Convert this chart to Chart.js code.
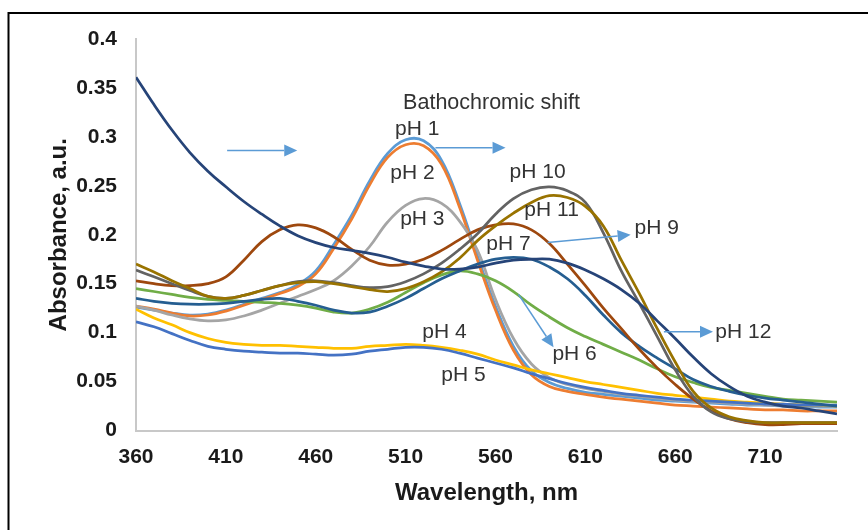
<!DOCTYPE html>
<html>
<head>
<meta charset="utf-8">
<script src="https://cdn.jsdelivr.net/npm/chart.js@4.4.1/dist/chart.umd.min.js"></script>
<style>
  html, body { margin: 0; padding: 0; background: #fff; }
</style>
</head>
<body>
<canvas id="spectra" width="868" height="530"></canvas>
<script>
const FONT = "'Liberation Sans', Arial, sans-serif";

// wavelength grid, nm
const wavelengths = [360, 370, 380, 390, 400, 410, 420, 430, 440, 450,
                     460, 470, 480, 490, 500, 510, 520, 530, 540, 550,
                     560, 570, 580, 590, 600, 610, 620, 630, 640, 650,
                     660, 670, 680, 690, 700, 710, 720, 730, 740, 750];

// absorbance values
const ph1 = [.126, .123, .120, .118, .119, .123, .129, .135, .141, .149,
             .163, .190, .220, .255, .283, .297, .296, .276, .232, .178,
             .127, .086, .061, .049, .043, .039, .037, .035, .033, .031,
             .030, .029, .028, .027, .026, .026, .025, .025, .024, .024];
const ph2 = [.127, .124, .120, .117, .118, .122, .128, .134, .140, .147,
             .160, .186, .216, .251, .279, .292, .291, .272, .228, .174,
             .123, .082, .057, .045, .040, .037, .034, .032, .030, .028,
             .026, .025, .024, .023, .022, .021, .021, .020, .020, .020];
const ph3 = [.127, .123, .118, .114, .112, .113, .117, .123, .130, .137,
             .144, .153, .168, .188, .213, .230, .237, .232, .214, .184,
             .134, .094, .068, .054, .047, .043, .040, .037, .035, .033,
             .031, .030, .029, .028, .027, .026, .026, .025, .025, .025];
const ph4 = [.124, .115, .108, .100, .094, .090, .088, .087, .087, .086,
             .085, .084, .084, .086, .087, .088, .087, .085, .082, .078,
             .072, .067, .062, .058, .054, .050, .047, .044, .041, .038,
             .036, .034, .032, .030, .029, .028, .027, .026, .026, .025];
const ph5 = [.111, .106, .099, .092, .086, .083, .081, .080, .079, .079,
             .078, .077, .078, .081, .083, .085, .085, .083, .079, .074,
             .069, .064, .058, .053, .048, .044, .041, .038, .036, .034,
             .032, .031, .030, .029, .028, .027, .027, .026, .026, .026];
const ph6 = [.145, .142, .139, .136, .134, .133, .132, .131, .130, .128,
             .125, .121, .120, .124, .131, .141, .151, .159, .163, .160,
             .153, .142, .128, .116, .105, .096, .088, .080, .072, .063,
             .055, .049, .044, .041, .038, .035, .032, .031, .030, .029];
const ph7 = [.135, .132, .130, .129, .129, .130, .132, .134, .135, .132,
             .128, .123, .120, .121, .127, .135, .145, .155, .163, .170,
             .175, .177, .175, .167, .155, .138, .118, .100, .086, .074,
             .063, .052, .045, .040, .036, .033, .031, .029, .027, .025];
const ph9 = [.153, .150, .148, .148, .150, .157, .174, .193, .205, .210,
             .207, .198, .185, .174, .169, .170, .175, .184, .195, .205,
             .210, .211, .205, .191, .170, .148, .125, .104, .083, .064,
             .047, .032, .020, .012, .008, .006, .006, .007, .007, .007];
const ph10 = [.164, .157, .150, .143, .137, .135, .138, .143, .148, .152,
              .153, .151, .148, .146, .147, .152, .160, .171, .185, .201,
              .221, .237, .246, .249, .245, .233, .202, .163, .130, .096,
              .062, .035, .019, .012, .009, .008, .008, .008, .008, .008];
const ph11 = [.170, .162, .153, .145, .137, .135, .138, .143, .148, .151,
              .152, .150, .147, .144, .142, .145, .152, .162, .176, .194,
              .209, .222, .233, .240, .238, .229, .209, .174, .140, .104,
              .070, .040, .023, .014, .010, .008, .008, .008, .008, .008];
const ph12 = [.361, .333, .307, .284, .265, .249, .234, .221, .209, .199,
              .192, .187, .184, .181, .177, .172, .168, .165, .165, .167,
              .171, .174, .175, .175, .171, .164, .155, .144, .130, .112,
              .094, .075, .058, .045, .035, .029, .025, .023, .020, .017];

const xTicks = [360, 410, 460, 510, 560, 610, 660, 710];

const series = [
    { label: 'pH 1', values: ph1, color: '#5B9BD5' },
    { label: 'pH 2', values: ph2, color: '#ED7D31' },
    { label: 'pH 3', values: ph3, color: '#A5A5A5' },
    { label: 'pH 4', values: ph4, color: '#FFC000' },
    { label: 'pH 5', values: ph5, color: '#4472C4' },
    { label: 'pH 6', values: ph6, color: '#70AD47' },
    { label: 'pH 7', values: ph7, color: '#255E91' },
    { label: 'pH 9', values: ph9, color: '#9E480E' },
    { label: 'pH 10', values: ph10, color: '#636363' },
    { label: 'pH 11', values: ph11, color: '#997300' },
    { label: 'pH 12', values: ph12, color: '#264478' }
];

// annotation texts and arrows, in data units (nm, absorbance)
const notes = [
    ['Bathochromic shift', 557.8, 0.335],
    ['pH 1', 516.5, 0.308], ['pH 2', 513.8, 0.263], ['pH 3', 519.3, 0.216],
    ['pH 10', 583.4, 0.264], ['pH 11', 591.2, 0.225], ['pH 9', 649.7, 0.207],
    ['pH 7', 567.2, 0.190], ['pH 12', 697.9, 0.100], ['pH 6', 604.0, 0.078],
    ['pH 4', 531.6, 0.100], ['pH 5', 542.2, 0.057]
];
const arrows = [
    [410.7, 0.286, 449.7, 0.286],
    [526.6, 0.289, 565.6, 0.289],
    [589.0, 0.192, 635.2, 0.200],
    [572.8, 0.139, 592.3, 0.085],
    [653.7, 0.101, 681.0, 0.101]
];

const annotate = {
    id: 'annotate',
    beforeDraw(chart) {
        const ctx = chart.ctx;
        ctx.save();
        ctx.fillStyle = '#fff';
        ctx.fillRect(0, 0, chart.width, chart.height);
        // outer frame
        ctx.strokeStyle = '#000';
        ctx.lineWidth = 2;
        ctx.beginPath();
        ctx.moveTo(8.5, chart.height + 5);
        ctx.lineTo(8.5, 13);
        ctx.lineTo(chart.width + 5, 13);
        ctx.stroke();
        ctx.restore();
    },
    afterDatasetsDraw(chart) {
        const { ctx, scales: { x, y } } = chart;
        ctx.save();
        ctx.strokeStyle = '#5B9BD5';
        ctx.fillStyle = '#5B9BD5';
        ctx.lineWidth = 1.5;
        arrows.forEach(a => {
            const x0 = x.getPixelForValue(a[0]), y0 = y.getPixelForValue(a[1]);
            const x1 = x.getPixelForValue(a[2]), y1 = y.getPixelForValue(a[3]);
            const ang = Math.atan2(y1 - y0, x1 - x0);
            const len = 13, half = 6;
            const bx = x1 - len * Math.cos(ang), by = y1 - len * Math.sin(ang);
            ctx.beginPath();
            ctx.moveTo(x0, y0);
            ctx.lineTo(bx, by);
            ctx.stroke();
            ctx.beginPath();
            ctx.moveTo(x1, y1);
            ctx.lineTo(bx + half * Math.sin(ang), by - half * Math.cos(ang));
            ctx.lineTo(bx - half * Math.sin(ang), by + half * Math.cos(ang));
            ctx.closePath();
            ctx.fill();
        });
        ctx.fillStyle = '#333';
        ctx.textAlign = 'center';
        ctx.textBaseline = 'middle';
        notes.forEach((n, i) => {
            ctx.font = (i === 0 ? '21.5px ' : '21px ') + FONT;
            ctx.fillText(n[0], x.getPixelForValue(n[1]), y.getPixelForValue(n[2]));
        });
        ctx.restore();
    }
};

new Chart('spectra', {
    type: 'line',
    data: {
        datasets: series.map((s, i) => ({
            label: s.label,
            data: wavelengths.map((w, k) => ({ x: w, y: s.values[k] })),
            borderColor: s.color,
            backgroundColor: s.color,
            fill: false,
            order: series.length - i
        }))
    },
    options: {
        responsive: false,
        animation: false,
        layout: { padding: { left: 30, right: 31, top: 39, bottom: 0 } },
        plugins: { legend: { display: false }, tooltip: { enabled: false } },
        elements: {
            point: { radius: 0 },
            line: { borderWidth: 2.75, tension: 0.4 }
        },
        scales: {
            x: {
                type: 'linear',
                min: 360,
                max: 750,
                afterBuildTicks: s => { s.ticks = xTicks.map(v => ({ value: v })); },
                afterFit: s => { s.height = 99.5; },
                grid: { display: false, drawTicks: false },
                border: { display: true, color: '#c8c8c8', width: 2 },
                ticks: {
                    padding: 14,
                    maxRotation: 0,
                    autoSkip: false,
                    color: '#1a1a1a',
                    font: { family: FONT, size: 21, weight: 'bold' }
                },
                title: {
                    display: true,
                    text: 'Wavelength, nm',
                    color: '#1a1a1a',
                    font: { family: FONT, size: 24, weight: 'bold' },
                    padding: { top: 0, bottom: 22 }
                }
            },
            y: {
                min: 0,
                max: 0.4,
                afterFit: s => { s.width = 106; },
                grid: { display: false, drawTicks: false },
                border: { display: true, color: '#c8c8c8', width: 2 },
                ticks: {
                    stepSize: 0.05,
                    padding: 19,
                    color: '#1a1a1a',
                    font: { family: FONT, size: 21, weight: 'bold' },
                    callback: v => String(+v.toFixed(2))
                },
                title: {
                    display: true,
                    text: 'Absorbance, a.u.',
                    color: '#1a1a1a',
                    font: { family: FONT, size: 24, weight: 'bold' },
                    padding: { top: 15, bottom: 0 }
                }
            }
        }
    },
    plugins: [annotate]
});
</script>
</body>
</html>
